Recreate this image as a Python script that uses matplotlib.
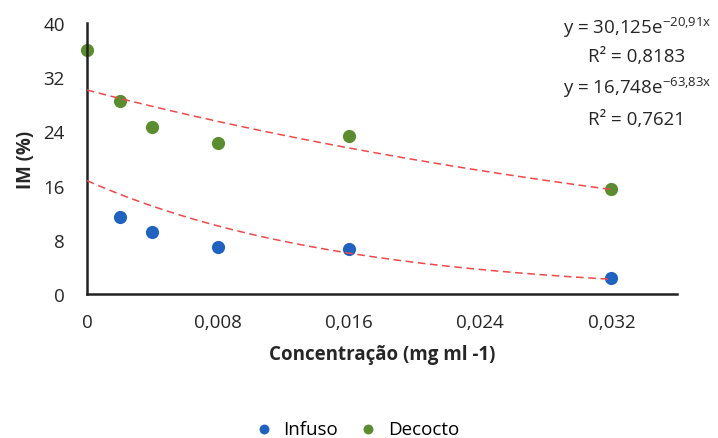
import matplotlib
matplotlib.use("Agg")
import matplotlib.pyplot as plt
import numpy as np

plt.rcParams['font.family'] = ['Open Sans', 'DejaVu Sans']

x_inf = [0.002, 0.004, 0.008, 0.016, 0.032]
y_inf = [11.4, 9.15, 6.9, 6.6, 2.3]
x_dec = [0.0, 0.002, 0.004, 0.008, 0.016, 0.032]
y_dec = [36.0, 28.5, 24.7, 22.3, 23.3, 15.5]

fit_dec = (30.125, -20.91)
fit_inf = (16.748, -63.83)

xticks = [0, 0.008, 0.016, 0.024, 0.032]
xticklabels = ['0', '0,008', '0,016', '0,024', '0,032']
yticks = [0, 8, 16, 24, 32, 40]

blue = '#1F62C0'
green = '#5B8C2F'
red = '#F04848'
txt = '#262626'

fig = plt.figure(figsize=(7.18, 4.39), dpi=100)
ax = fig.add_axes([0.121, 0.328, 0.822, 0.617])

xf = np.linspace(0, 0.032, 200)
ax.plot(xf, fit_dec[0] * np.exp(fit_dec[1] * xf), color=red, ls=(0, (5, 3)), lw=1.1, zorder=3)
ax.plot(xf, fit_inf[0] * np.exp(fit_inf[1] * xf), color=red, ls=(0, (5, 3)), lw=1.1, zorder=3)

ax.scatter(x_inf, y_inf, s=90, color=blue, zorder=2, label='Infuso', linewidths=0)
ax.scatter(x_dec, y_dec, s=90, color=green, zorder=2, label='Decocto', linewidths=0, clip_on=False)

ax.set_xlim(0, 0.036)
ax.set_ylim(0, 40)
ax.set_xticks(xticks)
ax.set_xticklabels(xticklabels)
ax.set_yticks(yticks)
ax.tick_params(length=0, labelsize=13.5, colors=txt)
ax.tick_params(axis='x', pad=14)
ax.tick_params(axis='y', pad=16)
for s in ['top', 'right']:
    ax.spines[s].set_visible(False)
for s in ['left', 'bottom']:
    ax.spines[s].set_linewidth(1.8)
    ax.spines[s].set_color('#222222')

ax.set_xlabel('Concentração (mg ml -1)', fontsize=13.5, fontweight='bold', labelpad=9, color=txt)
ax.set_ylabel('IM (%)', fontsize=13.5, fontweight='bold', labelpad=5, color=txt)

ex = 0.887
fig.text(ex, 0.938, r'y = 30,125e$^{\mathregular{-20{,}91x}}$', ha='center', va='center', fontsize=13.5, color=txt)
fig.text(ex, 0.871, 'R² = 0,8183', ha='center', va='center', fontsize=13.5, color=txt)
fig.text(ex, 0.801, r'y = 16,748e$^{\mathregular{-63{,}83x}}$', ha='center', va='center', fontsize=13.5, color=txt)
fig.text(ex, 0.727, 'R² = 0,7621', ha='center', va='center', fontsize=13.5, color=txt)

fig.legend(loc='center', bbox_to_anchor=(0.49, 0.021), ncol=2, frameon=False,
           fontsize=13.5, handletextpad=0.05, columnspacing=0.6, markerscale=0.75)

fig.savefig('out.png', dpi=100)
